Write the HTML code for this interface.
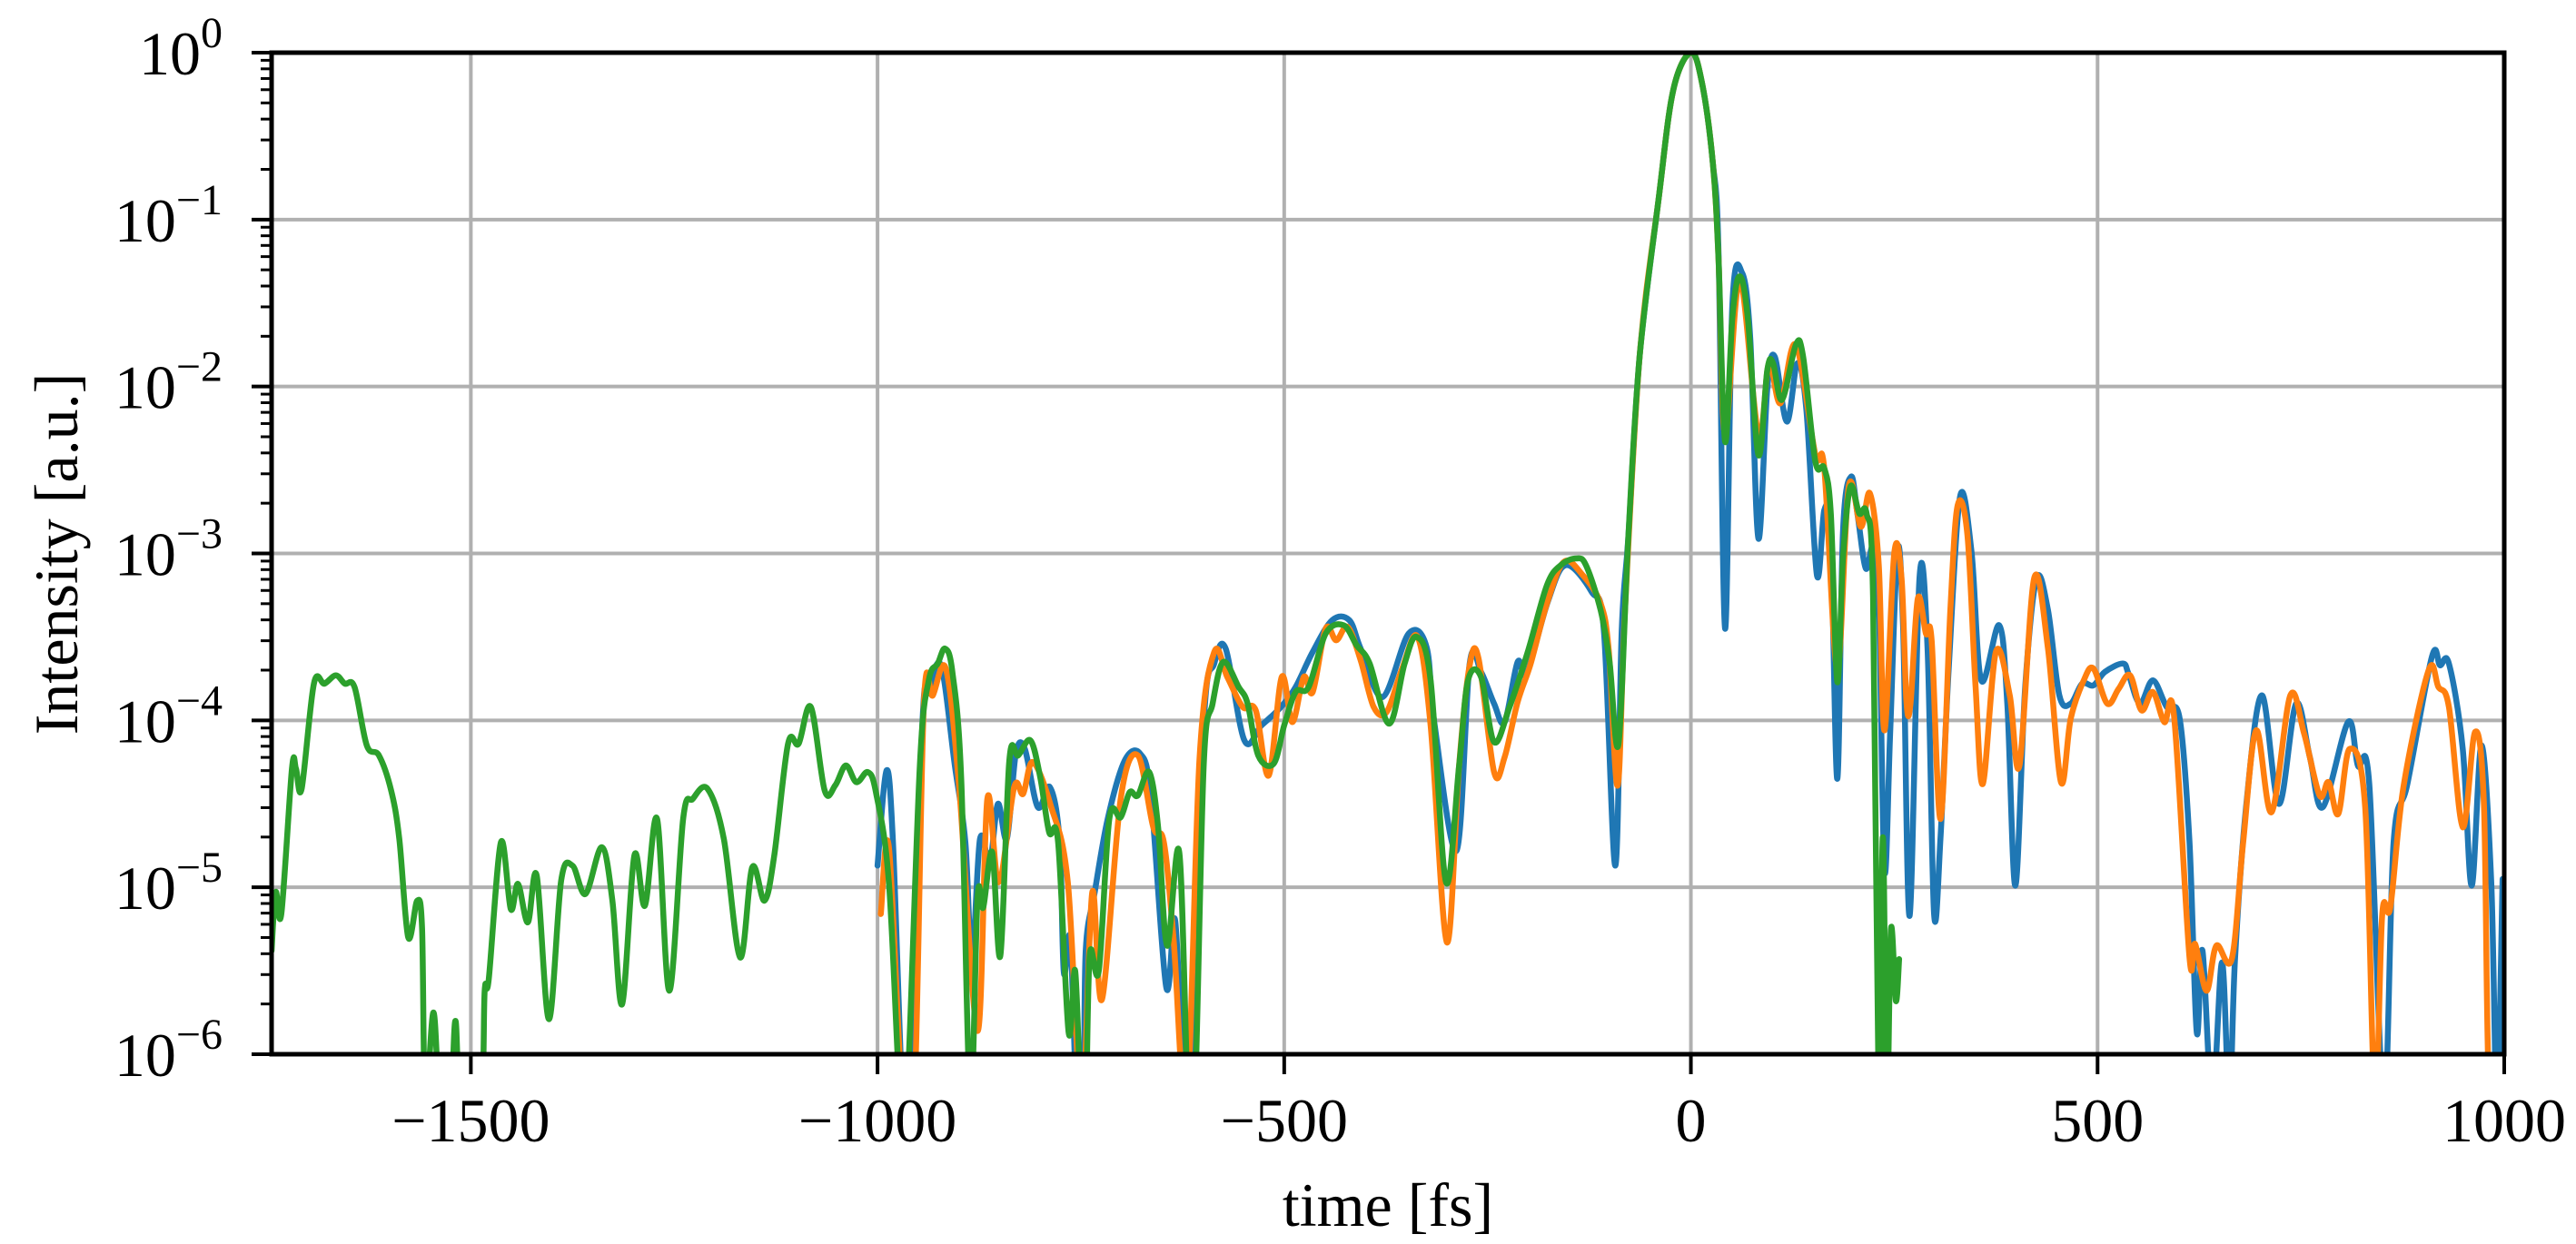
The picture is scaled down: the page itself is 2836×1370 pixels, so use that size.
<!DOCTYPE html>
<html><head><meta charset="utf-8"><style>
html,body{margin:0;padding:0;background:#fff;}
svg{display:block;font-family:"Liberation Serif","DejaVu Serif",serif;}
</style></head><body>
<svg id="chart" width="2836" height="1370" viewBox="0 0 2836 1370" xmlns="http://www.w3.org/2000/svg">
<defs><clipPath id="plotclip"><rect x="299" y="58" width="2458" height="1103"/></clipPath></defs>
<g id="grid"></g>
<g id="series" clip-path="url(#plotclip)"></g>
<rect x="299" y="58" width="2458" height="1103" fill="none" stroke="#000" stroke-width="5"/>
<g id="ticks"></g>
<text x="1528" y="1350" font-size="68" text-anchor="middle">time [fs]</text>
<text x="0" y="0" font-size="68" text-anchor="middle" transform="translate(85,610) rotate(-90)">Intensity [a.u.]</text>
</svg>
<script>
const xTicks = [-1500, -1000, -500, 0, 500, 1000];
const xTickLabels = ["\u22121500", "\u22121000", "\u2212500", "0", "500", "1000"];
const yExponents = [0, -1, -2, -3, -4, -5, -6];
const yTickLabels = ["0", "\u22121", "\u22122", "\u22123", "\u22124", "\u22125", "\u22126"];

const blueT = [-1000,-989,-981,-969,-961,-945,-937,-922,-905,-892,-884,-874,-862,-852,-841,-830,-819,-803,-788,-776,-771,-763,-755,-747,-744,-733,-717,-696,-677,-664,-645,-634,-623,-615,-599,-586,-572,-549,-528,-504,-486,-465,-441,-420,-406,-379,-347,-325,-315,-288,-272,-258,-242,-229,-213,-202,-176,-154,-122,-107,-93,-85,-77,-63,-40,-22,0,14,27,34,42,51,63,73,83,94,103,118,131,142,155,164,172,180,187,197,205,215,224,231,238,245,254,261,269,281,291,299,307,317,331,345,357,379,389,399,411,425,439,453,467,481,495,509,531,538,552,568,585,601,613,622,629,641,653,662,669,683,702,723,744,761,777,808,820,834,852,864,881,911,921,932,949,960,972,984,991,998];
const blueV = [-4.87,-4.30,-4.73,-6.3,-6.3,-4.03,-3.83,-3.67,-4.27,-4.73,-5.43,-4.71,-4.85,-4.50,-4.71,-4.20,-4.17,-4.52,-4.40,-4.73,-5.51,-5.31,-6.3,-6.3,-5.38,-5.03,-4.59,-4.24,-4.20,-4.45,-5.6,-5.2,-6.3,-6.3,-4.03,-3.66,-3.57,-4.12,-4.03,-3.92,-3.80,-3.59,-3.40,-3.40,-3.57,-3.86,-3.48,-3.56,-4.03,-4.78,-3.66,-3.71,-3.90,-4.01,-3.65,-3.72,-3.29,-3.07,-3.23,-3.46,-4.87,-3.46,-2.91,-1.82,-0.89,-0.23,0,-0.19,-0.66,-1.20,-3.45,-1.51,-1.32,-1.71,-2.91,-2.01,-1.82,-2.21,-1.86,-2.14,-3.13,-2.74,-2.91,-4.35,-2.87,-2.54,-2.77,-3.09,-2.96,-3.30,-4.90,-4.08,-2.98,-3.46,-5.17,-3.15,-3.57,-5.16,-4.69,-3.69,-2.66,-2.99,-3.76,-3.43,-3.90,-4.99,-3.80,-3.15,-3.34,-3.85,-3.90,-3.78,-3.79,-3.71,-3.66,-3.72,-3.90,-3.76,-3.92,-3.99,-4.73,-5.87,-5.38,-6.3,-5.45,-6.3,-5.43,-4.50,-3.85,-4.50,-3.90,-4.22,-4.52,-4.01,-4.27,-4.38,-6.3,-4.73,-4.38,-3.62,-3.67,-3.66,-4.17,-4.99,-4.15,-4.97,-6.3,-4.95];

const orangeT = [-996,-986,-969,-955,-943,-932,-916,-900,-877,-865,-851,-832,-821,-809,-787,-766,-749,-736,-724,-701,-680,-661,-648,-636,-620,-604,-586,-570,-551,-535,-519,-503,-490,-476,-465,-449,-436,-422,-406,-390,-374,-355,-336,-320,-300,-285,-272,-261,-242,-229,-213,-197,-177,-156,-133,-111,-101,-90,-81,-63,-40,-22,0,14,27,34,42,60,83,96,110,129,153,164,180,194,209,220,231,238,250,259,265,270,279,289,296,307,319,328,340,350,359,375,392,404,422,439,455,467,483,495,512,526,540,554,568,582,594,613,620,634,646,665,679,695,714,737,754,773,784,796,810,829,841,850,860,876,907,919,932,949,964,975,982,1000];
const orangeV = [-5.16,-4.76,-6.3,-6.3,-3.90,-3.85,-3.69,-4.38,-5.86,-4.47,-4.97,-4.40,-4.44,-4.25,-4.51,-4.97,-6.3,-5.03,-5.67,-4.47,-4.21,-4.64,-4.73,-5.31,-6.3,-4.22,-3.59,-3.74,-3.92,-3.94,-4.33,-3.74,-4.01,-3.74,-3.83,-3.45,-3.52,-3.44,-3.64,-3.92,-3.95,-3.69,-3.50,-4.03,-5.33,-4.27,-3.67,-3.63,-4.31,-4.22,-3.89,-3.66,-3.30,-3.05,-3.13,-3.30,-3.58,-4.39,-3.34,-1.82,-0.89,-0.23,0,-0.19,-0.66,-1.24,-2.29,-1.36,-2.29,-1.86,-2.10,-1.75,-2.41,-2.49,-3.69,-2.60,-2.84,-2.64,-3.07,-4.06,-3.00,-3.15,-3.88,-3.90,-3.27,-3.48,-3.52,-4.59,-3.34,-2.71,-2.89,-3.80,-4.38,-3.59,-3.85,-4.27,-3.15,-3.57,-4.37,-3.99,-3.76,-3.69,-3.90,-3.81,-3.73,-3.94,-3.83,-4.01,-3.97,-5.42,-5.34,-5.62,-5.35,-5.43,-4.73,-4.06,-4.55,-3.85,-4.08,-4.45,-4.37,-4.56,-4.17,-4.52,-6.3,-5.16,-5.12,-4.40,-3.70,-3.80,-3.92,-4.64,-4.07,-4.50,-6.3,-6.3];

const greenT = [-1745,-1740,-1733,-1720,-1715,-1708,-1693,-1680,-1666,-1655,-1643,-1628,-1613,-1598,-1588,-1577,-1566,-1560,-1556,-1546,-1538,-1525,-1519,-1512,-1488,-1483,-1478,-1463,-1451,-1442,-1430,-1419,-1404,-1389,-1375,-1359,-1339,-1326,-1314,-1299,-1286,-1271,-1256,-1239,-1227,-1209,-1189,-1169,-1154,-1139,-1127,-1110,-1097,-1082,-1065,-1052,-1039,-1026,-1012,-1002,-986,-972,-964,-948,-937,-926,-917,-908,-897,-886,-877,-870,-859,-849,-838,-827,-812,-800,-789,-778,-765,-757,-750,-744,-739,-728,-715,-701,-690,-680,-666,-655,-644,-629,-618,-610,-599,-588,-575,-556,-545,-532,-513,-500,-486,-470,-449,-427,-411,-395,-371,-352,-337,-320,-301,-285,-274,-258,-242,-223,-200,-177,-160,-141,-129,-111,-100,-89,-77,-63,-40,-22,0,14,27,34,42,51,60,70,83,94,101,112,129,138,153,164,172,180,187,196,207,216,224,231,236,241,246,252,256];
const greenV = [-5.38,-5.03,-5.16,-4.29,-4.29,-4.41,-3.78,-3.78,-3.73,-3.78,-3.80,-4.15,-4.21,-4.42,-4.71,-5.30,-5.08,-5.25,-6.3,-5.75,-6.3,-6.3,-5.80,-6.3,-6.3,-5.62,-5.55,-4.73,-5.13,-4.98,-5.21,-4.93,-5.79,-4.96,-4.87,-5.04,-4.76,-5.08,-5.70,-4.81,-5.11,-4.59,-5.62,-4.59,-4.47,-4.41,-4.71,-5.42,-4.88,-5.08,-4.81,-4.14,-4.14,-3.92,-4.42,-4.39,-4.27,-4.37,-4.31,-4.43,-4.97,-6.3,-6.3,-4.27,-3.76,-3.66,-3.57,-3.71,-4.36,-6.3,-5.06,-5.12,-4.79,-5.41,-4.24,-4.21,-4.12,-4.34,-4.67,-4.73,-5.87,-5.5,-6.3,-6.3,-5.4,-5.5,-4.59,-4.58,-4.43,-4.45,-4.31,-4.64,-5.35,-4.79,-6.3,-6.3,-4.27,-3.90,-3.65,-3.80,-3.90,-4.21,-4.26,-4.03,-3.83,-3.80,-3.48,-3.43,-3.55,-3.66,-4.02,-3.66,-3.50,-3.76,-4.97,-4.27,-3.76,-3.74,-4.13,-3.92,-3.58,-3.19,-3.07,-3.03,-3.07,-3.34,-3.65,-4.14,-2.91,-1.82,-0.89,-0.23,0,-0.19,-0.66,-1.24,-2.33,-1.59,-1.34,-1.59,-2.41,-1.90,-1.86,-2.08,-1.75,-1.82,-2.45,-2.49,-2.76,-3.77,-3.03,-2.60,-2.76,-2.76,-3.26,-6.3,-4.70,-6.3,-5.25,-5.68,-5.43];

const L=299,R=2757,T=58,B=1161,XMIN=-1745,XMAX=1000;
const NS="http://www.w3.org/2000/svg";
function xs(t){return L+(t-XMIN)*(R-L)/(XMAX-XMIN);}
function ys(lv){return T+(0-lv)*(B-T)/6;}
function mk(tag,attrs){const e=document.createElementNS(NS,tag);for(const k in attrs)e.setAttribute(k,attrs[k]);return e;}
const grid=document.getElementById('grid'),ticks=document.getElementById('ticks'),series=document.getElementById('series');

xTicks.forEach((t,i)=>{
  const x=xs(t);
  const g=mk('line',{x1:x,x2:x,y1:T,y2:B,stroke:'#b0b0b0','stroke-width':4});
  
  
  grid.appendChild(g);
  const tk=mk('line',{x1:x,x2:x,y1:B,y2:B+22,stroke:'#000','stroke-width':4});
  
  
  ticks.appendChild(tk);
  const lb=mk('text',{x:x,y:B+96,'font-size':68,'text-anchor':'middle'});
  lb.textContent=xTickLabels[i];
  
  
  ticks.appendChild(lb);
});
yExponents.forEach((e,i)=>{
  const y=ys(e);
  const g=mk('line',{x1:L,x2:R,y1:y,y2:y,stroke:'#b0b0b0','stroke-width':4});
  
  
  grid.appendChild(g);
  const tk=mk('line',{x1:L-22,x2:L,y1:y,y2:y,stroke:'#000','stroke-width':4});
  
  
  ticks.appendChild(tk);
  if(e>-6){for(let m=2;m<=9;m++){const ym=ys(e-1+Math.log10(m));
    const mt=mk('line',{x1:L-12,x2:L,y1:ym,y2:ym,stroke:'#000','stroke-width':3});
    
    
    ticks.appendChild(mt);}}
  const lb=mk('text',{x:245,y:y+24,'font-size':68,'text-anchor':'end'});
  const b=mk('tspan',{});b.textContent='10';
  const s=mk('tspan',{dy:-30,'font-size':48});s.textContent=yTickLabels[i];
  lb.appendChild(b);lb.appendChild(s);
  
  
  ticks.appendChild(lb);
});
function draw(T_,V_,color,name){
  const P=T_.map((t,i)=>[xs(t),ys(V_[i])]);
  let d='M'+P[0][0].toFixed(1)+','+P[0][1].toFixed(1);
  for(let i=0;i<P.length-1;i++){
    const p0=P[Math.max(0,i-1)],p1=P[i],p2=P[i+1],p3=P[Math.min(P.length-1,i+2)];
    const k=1/6;
    const c1x=p1[0]+(p2[0]-p0[0])*k, c1y=p1[1]+(p2[1]-p0[1])*k;
    const c2x=p2[0]-(p3[0]-p1[0])*k, c2y=p2[1]-(p3[1]-p1[1])*k;
    d+=' C'+c1x.toFixed(1)+','+c1y.toFixed(1)+' '+c2x.toFixed(1)+','+c2y.toFixed(1)+' '+p2[0].toFixed(1)+','+p2[1].toFixed(1);
  }
  const p=mk('path',{d:d,fill:'none',stroke:color,'stroke-width':6.5,'stroke-linejoin':'round','stroke-linecap':'round'});
  
  
  series.appendChild(p);
}
draw(blueT,blueV,'#1f77b4','series-blue');
draw(orangeT,orangeV,'#ff7f0e','series-orange');
draw(greenT,greenV,'#2ca02c','series-green');
</script>
</body></html>
